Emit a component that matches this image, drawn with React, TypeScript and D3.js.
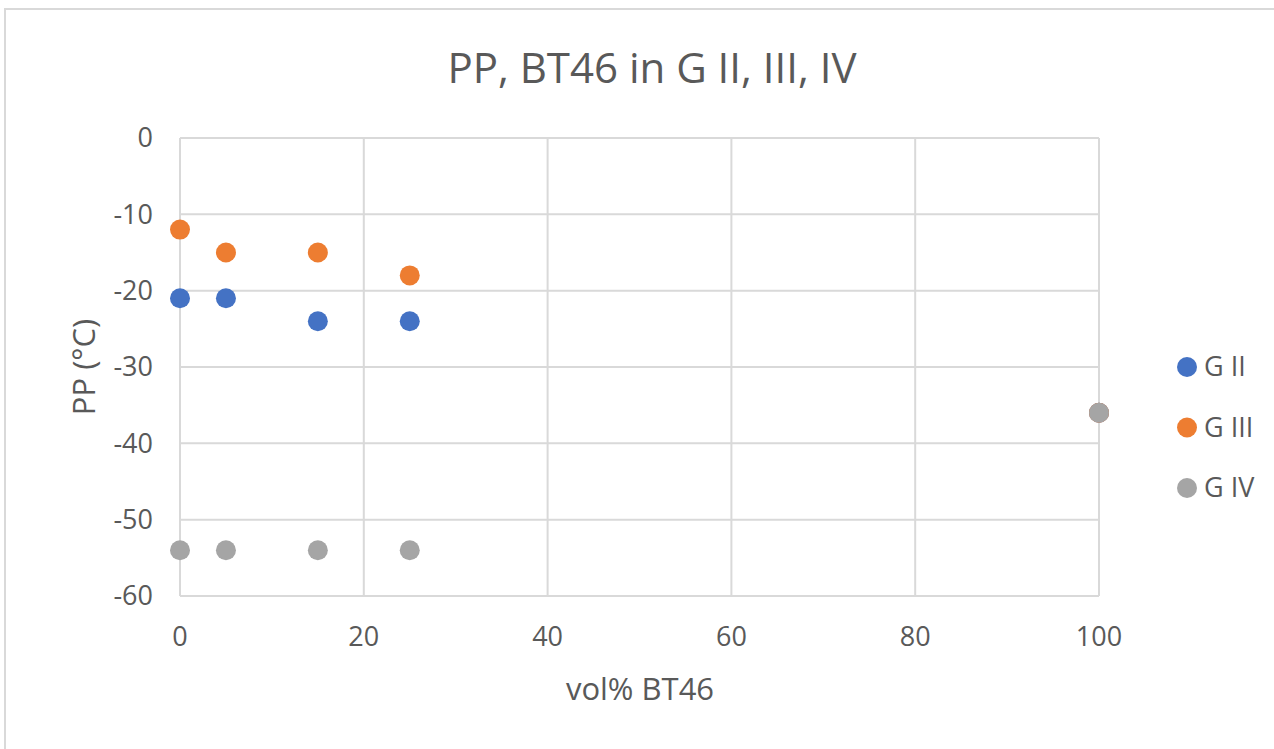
import React, { useEffect, useRef } from "react";
import * as d3 from "d3";

const seriesNames = ["G II", "G III", "G IV"];
const seriesColors = ["#4472c4", "#ed7d31", "#a5a5a5"];
const xValues = [0, 5, 15, 25, 100];
const gII = [-21, -21, -24, -24, -36];
const gIII = [-12, -15, -15, -18, -36];
const gIV = [-54, -54, -54, -54, -36];
const xTicks = [0, 20, 40, 60, 80, 100];
const yTicks = [0, -10, -20, -30, -40, -50, -60];

const App = (): JSX.Element => {
    const ref = useRef<SVGSVGElement>(null);
    const width = 1274;
    const height = 749;
    const margin = { top: 138, right: 175, bottom: 153, left: 180 };

    useEffect(() => {
        if (!ref.current) return;
        const svg = d3.select(ref.current);
        svg.selectAll("*").remove();
        const font = "'Open Sans', 'Liberation Sans', sans-serif";
        const textColor = "#595959";

        // outer frame
        svg.append("rect")
            .attr("x", 5).attr("y", 9)
            .attr("width", width + 20).attr("height", height + 20)
            .attr("fill", "#fff").attr("stroke", "#d9d9d9").attr("stroke-width", 2);

        const x = d3.scaleLinear().domain([0, 100]).range([margin.left, width - margin.right]);
        const y = d3.scaleLinear().domain([-60, 0]).range([height - margin.bottom, margin.top]);

        // grid
        const grid = svg.append("g").attr("stroke", "#d9d9d9").attr("stroke-width", 2);
        grid.selectAll("line.h").data(yTicks).join("line").attr("class", "h")
            .attr("x1", x(0)).attr("x2", x(100))
            .attr("y1", (d) => y(d)).attr("y2", (d) => y(d));
        grid.selectAll("line.v").data(xTicks).join("line").attr("class", "v")
            .attr("y1", y(0)).attr("y2", y(-60))
            .attr("x1", (d) => x(d)).attr("x2", (d) => x(d));

        // tick labels
        svg.append("g").selectAll("text").data(yTicks).join("text")
            .attr("x", x(0) - 27).attr("y", (d) => y(d)).attr("dy", "0.35em")
            .attr("text-anchor", "end").attr("font-family", font).attr("font-size", 27)
            .attr("fill", textColor).text((d) => d);
        svg.append("g").selectAll("text").data(xTicks).join("text")
            .attr("x", (d) => x(d)).attr("y", y(-60) + 41).attr("dy", "0.35em")
            .attr("text-anchor", "middle").attr("font-family", font).attr("font-size", 27)
            .attr("fill", textColor).text((d) => d);

        // titles
        svg.append("text").attr("x", 652).attr("y", 68).attr("dy", "0.35em")
            .attr("text-anchor", "middle").attr("font-family", font).attr("font-size", 42)
            .attr("fill", textColor).text("PP, BT46 in G II, III, IV");
        svg.append("text").attr("x", 640).attr("y", 689).attr("dy", "0.35em")
            .attr("text-anchor", "middle").attr("font-family", font).attr("font-size", 31)
            .attr("fill", textColor).text("vol% BT46");
        svg.append("text").attr("transform", `translate(84,${y(-30)}) rotate(-90)`).attr("dy", "0.35em")
            .attr("text-anchor", "middle").attr("font-family", font).attr("font-size", 31)
            .attr("fill", textColor).text("PP (°C)");

        // points
        const allSeries = [gII, gIII, gIV];
        allSeries.forEach((vals, i) => {
            svg.append("g").selectAll("circle").data(vals).join("circle")
                .attr("cx", (d, j) => x(xValues[j])).attr("cy", (d) => y(d))
                .attr("r", 10).attr("fill", seriesColors[i]);
        });

        // legend
        const legend = svg.append("g");
        seriesNames.forEach((name, i) => {
            const ly = 367 + i * 60.5;
            legend.append("circle").attr("cx", 1187).attr("cy", ly).attr("r", 10).attr("fill", seriesColors[i]);
            legend.append("text").attr("x", 1204).attr("y", ly).attr("dy", "0.35em")
                .attr("font-family", font).attr("font-size", 27).attr("fill", textColor).text(name);
        });
    }, []);

    return (
        <svg ref={ref} width={width} height={height}
            style={{ position: "absolute", left: 0, top: 0, background: "#fff" }} />
    );
};

export default App;
